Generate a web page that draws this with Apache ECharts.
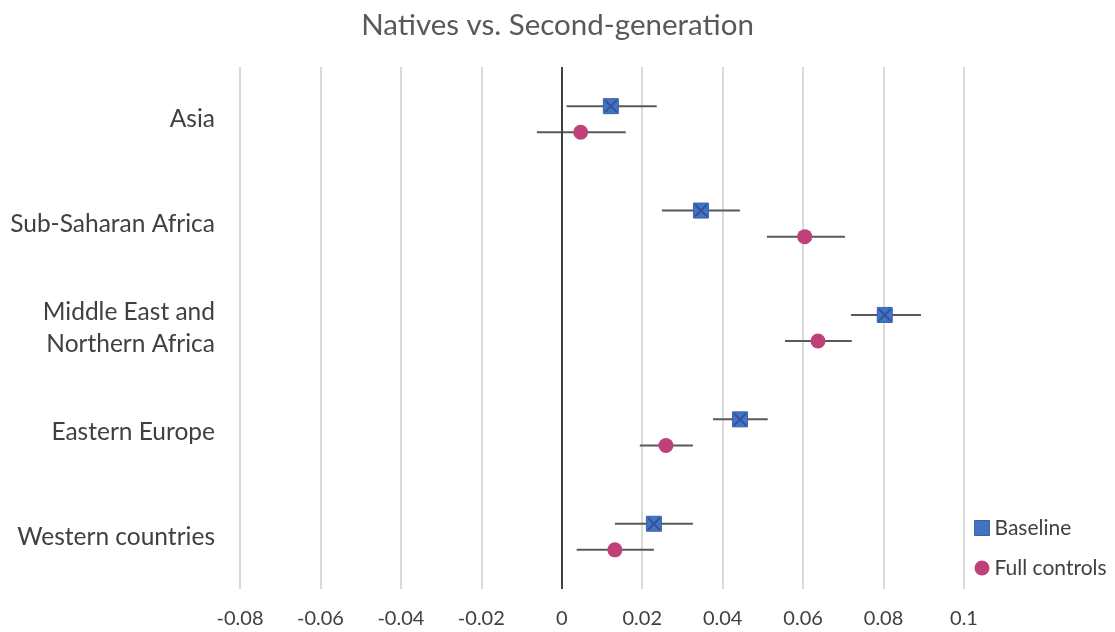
<!DOCTYPE html>
<html><head><meta charset="utf-8">
<script src="https://cdn.jsdelivr.net/npm/echarts@6/dist/echarts.min.js"></script>
<style>html,body{margin:0;padding:0;background:#fff}#c{width:1115px;height:632px}</style>
</head><body><div id="c"></div>
<script>
const categories = ['Asia', 'Sub-Saharan Africa', 'Middle East and\nNorthern Africa', 'Eastern Europe', 'Western countries'];
const baseline = [0.0122, 0.0346, 0.0803, 0.0443, 0.0229];
const baselineLow = [0.0012, 0.0249, 0.0719, 0.0376, 0.0132];
const baselineHigh = [0.0236, 0.0443, 0.0893, 0.0512, 0.0326];
const fullControls = [0.0047, 0.0604, 0.0637, 0.0259, 0.0132];
const fullLow = [-0.0062, 0.0510, 0.0555, 0.0194, 0.0037];
const fullHigh = [0.0159, 0.0704, 0.0721, 0.0326, 0.0229];
const xTicks = [-0.08, -0.06, -0.04, -0.02, 0, 0.02, 0.04, 0.06, 0.08, 0.1];

const OFF = 0.125;
const FONT = 'Lato';
const chart = echarts.init(document.getElementById('c'));

function errData(lo, hi, shift) {
  return lo.map((l, i) => [l, hi[i], i + 0.5 + shift]);
}
function errRender(params, api) {
  const p1 = api.coord([api.value(0), api.value(2)]);
  const p2 = api.coord([api.value(1), api.value(2)]);
  return { type: 'line', shape: { x1: p1[0], y1: p1[1], x2: p2[0], y2: p2[1] },
           style: { stroke: '#595959', lineWidth: 2 } };
}
function baseRender(params, api) {
  const p = api.coord([api.value(0), api.value(1)]);
  const h = 7.5;
  return { type: 'group', children: [
    { type: 'rect', shape: { x: p[0] - h, y: p[1] - h, width: 2 * h, height: 2 * h },
      style: { fill: '#4472C4', stroke: '#3A63AD', lineWidth: 1 } },
    { type: 'line', shape: { x1: p[0] - h + 1.5, y1: p[1] - h + 1.5, x2: p[0] + h - 1.5, y2: p[1] + h - 1.5 },
      style: { stroke: '#2F5597', lineWidth: 2 } },
    { type: 'line', shape: { x1: p[0] + h - 1.5, y1: p[1] - h + 1.5, x2: p[0] - h + 1.5, y2: p[1] + h - 1.5 },
      style: { stroke: '#2F5597', lineWidth: 2 } }
  ]};
}

chart.setOption({
  animation: false,
  title: { text: 'Natives vs. Second-generation', left: 'center', top: 5,
           textStyle: { fontFamily: FONT, fontSize: 29.5, fontWeight: 'normal', color: '#595959' } },
  legend: {
    orient: 'vertical', left: 969, top: 512, itemGap: 18, itemWidth: 15, itemHeight: 15,
    textStyle: { fontFamily: FONT, fontSize: 21, lineHeight: 22, color: '#404040' },
    data: [{ name: 'Baseline', icon: 'rect', itemStyle: { color: '#4472C4', borderColor: '#3A63AD', borderWidth: 1 } },
           { name: 'Full controls', icon: 'circle', itemStyle: { color: '#C0407A' } }]
  },
  grid: { left: 240, right: 151, top: 67, bottom: 43 },
  xAxis: {
    type: 'value', min: -0.08, max: 0.1, interval: 0.02,
    axisLine: { show: false }, axisTick: { show: false },
    splitLine: { show: true, lineStyle: { color: '#D9D9D9', width: 2 } },
    axisLabel: { margin: 20, fontFamily: FONT, fontSize: 20, color: '#404040',
                 formatter: v => String(parseFloat(v.toFixed(2))) }
  },
  yAxis: [
    { type: 'category', data: categories, inverse: true,
      axisLine: { show: false }, axisTick: { show: false }, splitLine: { show: false },
      axisLabel: { margin: 25, fontFamily: FONT, fontSize: 24.5, color: '#404040', lineHeight: 32, align: 'right' } },
    { type: 'value', min: 0, max: 5, inverse: true, show: false, splitLine: { show: false } }
  ],
  series: [
    { name: 'Baseline CI', type: 'custom', yAxisIndex: 1, renderItem: errRender,
      data: errData(baselineLow, baselineHigh, -OFF), z: 2,
      markLine: { silent: true, symbol: 'none', label: { show: false },
                  lineStyle: { color: '#404040', width: 2, type: 'solid' }, data: [{ xAxis: 0 }] } },
    { name: 'Full CI', type: 'custom', yAxisIndex: 1, renderItem: errRender,
      data: errData(fullLow, fullHigh, OFF), z: 2 },
    { name: 'Baseline', type: 'custom', yAxisIndex: 1, renderItem: baseRender,
      data: baseline.map((v, i) => [v, i + 0.5 - OFF]), z: 3 },
    { name: 'Full controls', type: 'scatter', yAxisIndex: 1, symbol: 'circle', symbolSize: 15,
      itemStyle: { color: '#C0407A', opacity: 1 },
      data: fullControls.map((v, i) => [v, i + 0.5 + OFF]), z: 3 }
  ]
});
</script></body></html>
